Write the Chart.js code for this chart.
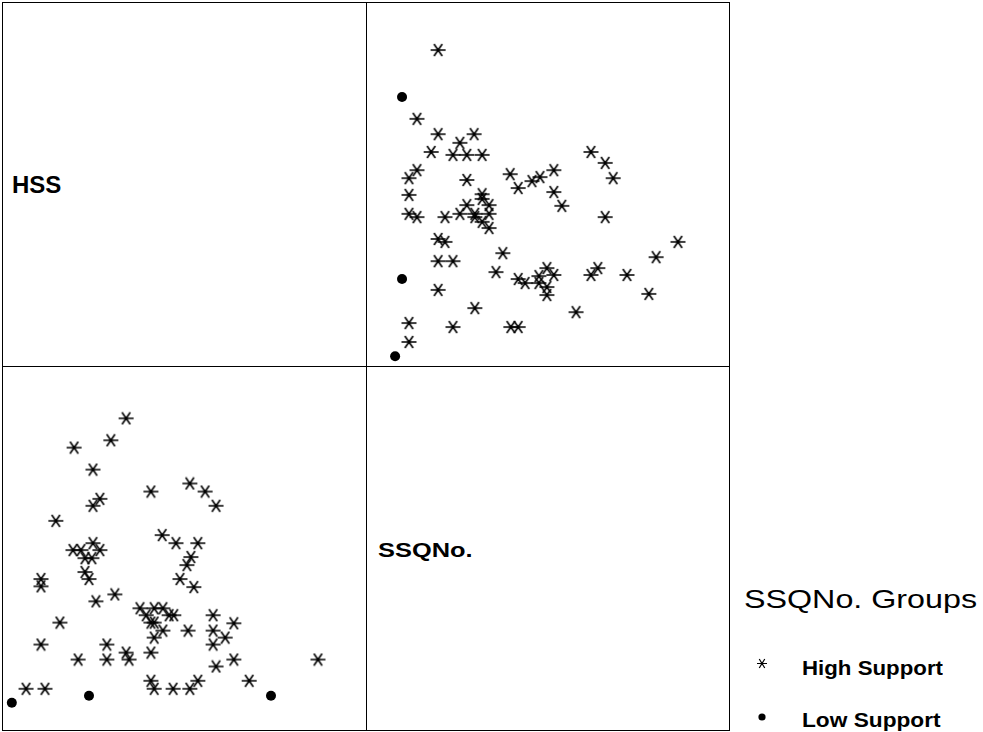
<!DOCTYPE html>
<html>
<head>
<meta charset="utf-8">
<script src="https://cdn.jsdelivr.net/npm/chart.js@4"></script>
<style>
  html, body { margin: 0; padding: 0; background: #fff; }
  #wrap { position: relative; width: 983px; height: 732px; overflow: hidden; font-family: Arial, "Liberation Sans", sans-serif; color: #000; }
  .line { position: absolute; background: #000; }
  canvas.panel { position: absolute; }
  .lbl { position: absolute; white-space: nowrap; transform-origin: 0 0; }
  .mk { position: absolute; }
</style>
</head>
<body>
<div id="wrap">
  <div class="line" style="left:2px;top:2px;width:728px;height:1px"></div>
  <div class="line" style="left:2px;top:730px;width:728px;height:1px"></div>
  <div class="line" style="left:2px;top:2px;width:1px;height:729px"></div>
  <div class="line" style="left:729px;top:2px;width:1px;height:729px"></div>
  <div class="line" style="left:366px;top:2px;width:1px;height:729px"></div>
  <div class="line" style="left:2px;top:366px;width:728px;height:1px"></div>

  <canvas id="topRight" class="panel" width="364" height="364" style="left:366px;top:2px"></canvas>
  <canvas id="bottomLeft" class="panel" width="364" height="366" style="left:2px;top:366px"></canvas>

  <div class="lbl" style="left:12px;top:173px;font-size:24px;line-height:24px;font-weight:bold">HSS</div>
  <div class="lbl" style="left:378px;top:540px;font-size:20px;line-height:20px;font-weight:bold;transform:scaleX(1.27)">SSQNo.</div>

  <div class="lbl" style="left:744px;top:587px;font-size:25px;line-height:25px;transform:scaleX(1.29)">SSQNo. Groups</div>
  <canvas id="mkHigh" class="mk" width="12" height="11" style="left:756px;top:658px"></canvas>
  <div class="lbl" style="left:802px;top:657px;font-size:21px;line-height:21px;font-weight:bold;transform:scaleX(1.06)">High Support</div>
  <canvas id="mkLow" class="mk" width="10" height="10" style="left:757px;top:712px"></canvas>
  <div class="lbl" style="left:802px;top:709px;font-size:21px;line-height:21px;font-weight:bold;transform:scaleX(1.08)">Low Support</div>
</div>

<script>
// SSQNo. and HSS values (0-100 scale)
const ssqHigh = [19.8, 14.0, 19.8, 29.7, 25.8, 17.9, 23.9, 27.7, 31.9, 61.8,
                 65.7, 67.9, 14.0, 11.8, 27.7, 39.6, 41.8, 45.6, 47.8, 51.6,
                 11.8, 31.9, 31.9, 51.6, 53.8, 65.7, 27.7, 33.8, 11.8, 14.0,
                 21.7, 25.8, 29.9, 29.9, 31.9, 33.8, 33.8, 19.8, 21.7, 37.6,
                 19.8, 23.9, 35.7, 41.8, 43.7, 47.5, 47.5, 49.7, 51.6, 49.7,
                 49.7, 61.8, 63.7, 71.7, 77.7, 79.7, 85.7, 57.7, 19.8, 29.9,
                 11.8, 23.9, 39.8, 41.8, 11.8];
const hssHigh = [86.8, 67.9, 63.7, 63.7, 61.3, 58.8, 58.0, 58.0, 58.0, 58.8,
                 55.8, 51.6, 53.8, 51.6, 51.1, 52.7, 48.9, 50.8, 51.9, 53.8,
                 47.0, 47.2, 45.9, 47.8, 44.0, 40.9, 44.2, 44.2, 41.8, 40.9,
                 40.9, 41.8, 41.8, 40.9, 39.6, 41.8, 37.9, 34.9, 34.1, 31.0,
                 28.8, 28.8, 25.8, 23.9, 22.8, 24.7, 22.8, 26.9, 25.0, 21.7,
                 19.5, 25.0, 26.9, 25.0, 19.8, 29.9, 34.1, 14.8, 20.9, 15.9,
                 11.8, 10.7, 10.7, 10.7, 6.6];
const ssqLow = [9.9, 9.9, 8.0];
const hssLow = [73.9, 23.9, 2.7];

function makeStar(w, h, lw) {
  const c = document.createElement('canvas');
  c.width = w; c.height = h;
  const g = c.getContext('2d');
  const cx = w / 2, cy = h / 2;
  const rx = w / 2 - 1, dx = rx * 0.55, dy = h / 2 - 1;
  g.strokeStyle = '#000';
  g.lineWidth = lw;
  g.beginPath();
  g.moveTo(cx - rx, cy); g.lineTo(cx + rx, cy);
  g.moveTo(cx - dx, cy - dy); g.lineTo(cx + dx, cy + dy);
  g.moveTo(cx + dx, cy - dy); g.lineTo(cx - dx, cy + dy);
  g.stroke();
  g.fillStyle = '#000';
  g.beginPath(); g.arc(cx, cy, lw * 1.1, 0, Math.PI * 2); g.fill();
  return c;
}

const star = makeStar(17, 14, 1.6);

function pairs(xs, ys) {
  return xs.map((x, i) => ({ x: x, y: ys[i] }));
}

function panel(id, high, low) {
  return new Chart(document.getElementById(id), {
    type: 'scatter',
    data: {
      datasets: [
        { label: 'High Support', data: high, pointStyle: star, pointRadius: 7, clip: false },
        { label: 'Low Support', data: low, pointStyle: 'circle', pointRadius: 5,
          backgroundColor: '#000', borderColor: '#000', borderWidth: 0, clip: false }
      ]
    },
    options: {
      responsive: false,
      animation: false,
      events: [],
      layout: { padding: 0, autoPadding: false },
      scales: {
        x: { type: 'linear', min: 0, max: 100, display: false },
        y: { type: 'linear', min: 0, max: 100, display: false }
      },
      plugins: { legend: { display: false }, tooltip: { enabled: false } }
    }
  });
}

// upper right: SSQNo. across, HSS up; lower left: the transpose
panel('topRight', pairs(ssqHigh, hssHigh), pairs(ssqLow, hssLow));
panel('bottomLeft', pairs(hssHigh, ssqHigh), pairs(hssLow, ssqLow));

// legend markers
const mh = document.getElementById('mkHigh').getContext('2d');
mh.drawImage(makeStar(12, 11, 1.2), 0, 0);
const ml = document.getElementById('mkLow').getContext('2d');
ml.fillStyle = '#000';
ml.beginPath(); ml.arc(5, 5, 3.6, 0, Math.PI * 2); ml.fill();
</script>
</body>
</html>
